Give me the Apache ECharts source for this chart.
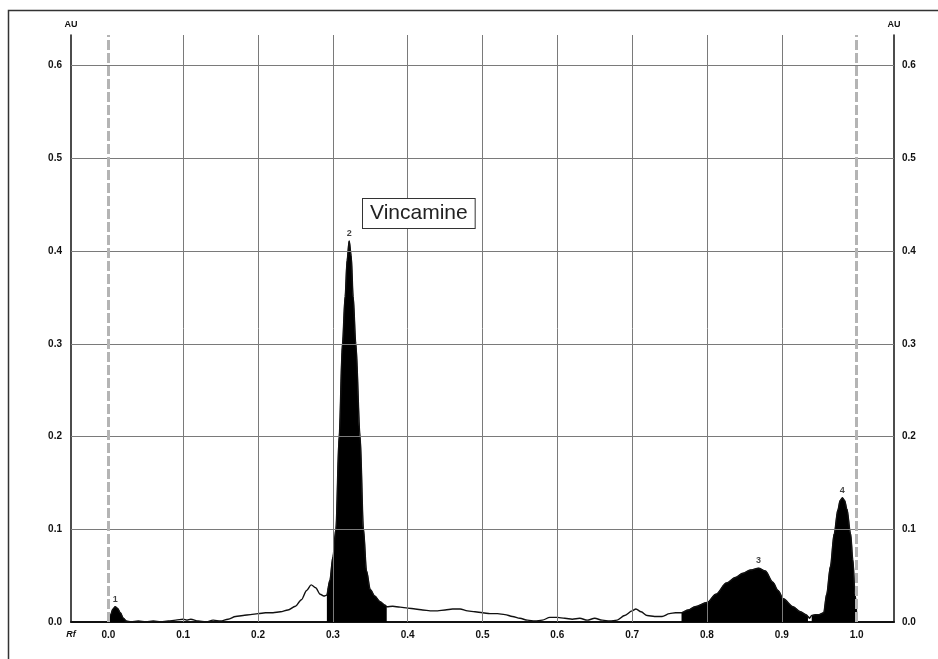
<!DOCTYPE html>
<html>
<head>
<meta charset="utf-8">
<script src="https://cdn.jsdelivr.net/npm/echarts@6/dist/echarts.min.js"></script>
<style>
  html, body { margin: 0; padding: 0; background: #fff; }
  #chart { width: 938px; height: 659px; }
</style>
</head>
<body>
<div id="chart"></div>
<script>
// densitogram trace (Rf vs absorbance units)
const rfValues = [
  0.000, 0.003, 0.006, 0.009, 0.012, 0.016, 0.020, 0.024, 0.030, 0.040,
  0.050, 0.060, 0.070, 0.080, 0.090, 0.100, 0.105, 0.110, 0.120, 0.130,
  0.140, 0.150, 0.160, 0.170, 0.180, 0.190, 0.200, 0.210, 0.220, 0.230,
  0.240, 0.250, 0.258, 0.265, 0.271, 0.277, 0.283, 0.288, 0.292, 0.296,
  0.300, 0.304, 0.3084, 0.3128, 0.3164, 0.319, 0.3218, 0.3245, 0.3271, 0.3307,
  0.3364, 0.3409, 0.345, 0.350, 0.356, 0.363, 0.370, 0.372, 0.380, 0.390,
  0.400, 0.410, 0.420, 0.430, 0.440, 0.450, 0.460, 0.470, 0.480, 0.490,
  0.500, 0.510, 0.520, 0.530, 0.540, 0.550, 0.560, 0.570, 0.580, 0.590,
  0.600, 0.610, 0.620, 0.630, 0.640, 0.650, 0.660, 0.670, 0.680, 0.690,
  0.700, 0.705, 0.712, 0.720, 0.730, 0.740, 0.750, 0.758, 0.766, 0.775,
  0.784, 0.800, 0.812, 0.826, 0.838, 0.848, 0.858, 0.869, 0.878, 0.888,
  0.895, 0.902, 0.915, 0.925, 0.933, 0.935, 0.937, 0.940, 0.945, 0.950,
  0.956, 0.960, 0.965, 0.970, 0.975, 0.978, 0.981, 0.984, 0.987, 0.992,
  0.995, 0.998, 1.000
];
const auValues = [
  0.002, 0.008, 0.014, 0.0165, 0.015, 0.010, 0.004, 0.001, 0.000, 0.001,
  0.000, 0.001, 0.000, 0.001, 0.002, 0.003, 0.002, 0.003, 0.001, 0.000,
  0.002, 0.001, 0.003, 0.006, 0.007, 0.008, 0.009, 0.010, 0.010, 0.011,
  0.013, 0.017, 0.024, 0.034, 0.040, 0.037, 0.030, 0.028, 0.029, 0.045,
  0.070, 0.100, 0.200, 0.300, 0.351, 0.390, 0.411, 0.395, 0.351, 0.300,
  0.200, 0.100, 0.055, 0.035, 0.028, 0.022, 0.018, 0.0165, 0.017, 0.016,
  0.015, 0.014, 0.013, 0.012, 0.012, 0.013, 0.014, 0.014, 0.012, 0.011,
  0.010, 0.009, 0.009, 0.008, 0.006, 0.004, 0.002, 0.001, 0.002, 0.005,
  0.005, 0.004, 0.003, 0.004, 0.002, 0.004, 0.002, 0.001, 0.002, 0.007,
  0.012, 0.014, 0.011, 0.007, 0.006, 0.006, 0.009, 0.010, 0.010, 0.013,
  0.0165, 0.021, 0.030, 0.042, 0.048, 0.0525, 0.056, 0.058, 0.055, 0.043,
  0.034, 0.025, 0.0165, 0.011, 0.0075, 0.006, 0.004, 0.007, 0.008, 0.008,
  0.010, 0.030, 0.060, 0.095, 0.121, 0.131, 0.134, 0.131, 0.122, 0.095,
  0.067, 0.030, 0.010
];

// integrated peak windows (start Rf, end Rf)
const peakStart = [0.000, 0.292, 0.766, 0.940];
const peakEnd = [0.024, 0.372, 0.935, 1.000];

// peak apex markers
const peakNames = ['1', '2', '3', '4'];
const peakRf = [0.009, 0.3218, 0.869, 0.981];
const peakAu = [0.0165, 0.411, 0.058, 0.134];

// axis ticks
const xTicks = [0.0, 0.1, 0.2, 0.3, 0.4, 0.5, 0.6, 0.7, 0.8, 0.9, 1.0];
const yTicks = [0.0, 0.1, 0.2, 0.3, 0.4, 0.5, 0.6];
const xGrid = [0.1, 0.2, 0.3, 0.4, 0.5, 0.6, 0.7, 0.8, 0.9];
const yGrid = [0.1, 0.2, 0.3, 0.4, 0.5, 0.6];
const frontLines = [0.0, 1.0];

const trace = rfValues.map((x, i) => [x, auValues[i]]);
const SMOOTH = 0.3;

const labelFont = { fontFamily: 'Liberation Sans', fontWeight: 'bold', fontSize: 10, color: '#111' };

const fillSeries = peakStart.map((a, i) => ({
  type: 'line',
  z: 2,
  silent: true,
  symbol: 'none',
  smooth: SMOOTH,
  smoothMonotone: 'x',
  lineStyle: { width: 0.8, color: '#222' },
  areaStyle: { color: '#000', opacity: 1 },
  data: trace.filter(p => p[0] >= a && p[0] <= peakEnd[i])
}));

const chart = echarts.init(document.getElementById('chart'));

const yAxisBase = {
  type: 'value',
  min: 0,
  max: 0.633,
  name: 'AU',
  nameLocation: 'end',
  nameGap: 6,
  nameTextStyle: { ...labelFont, fontSize: 9 },
  axisLine: { show: true, onZero: false, lineStyle: { color: '#111', width: 1.5 } },
  axisTick: { show: false },
  splitLine: { show: false },
  axisLabel: { ...labelFont, customValues: yTicks, formatter: v => v.toFixed(1) }
};

chart.setOption({
  animation: false,
  backgroundColor: '#fff',
  grid: { left: 71, right: 44, top: 35, bottom: 37 },
  xAxis: {
    type: 'value',
    min: -0.05,
    max: 1.05,
    axisLine: { show: true, onZero: false, lineStyle: { color: '#111', width: 2 } },
    axisTick: { show: false },
    splitLine: { show: false },
    axisLabel: {
      ...labelFont,
      margin: 8,
      customValues: [-0.05].concat(xTicks),
      formatter: v => (v < -0.01 ? '{rf|Rf}' : v.toFixed(1)),
      rich: { rf: { fontFamily: 'Liberation Sans', fontStyle: 'italic', fontWeight: 'bold', fontSize: 9, color: '#111' } }
    }
  },
  yAxis: [
    { ...yAxisBase, position: 'left', axisLabel: { ...yAxisBase.axisLabel, margin: 9 } },
    { ...yAxisBase, position: 'right', axisLabel: { ...yAxisBase.axisLabel, margin: 8 } }
  ],
  series: [
    {
      // grid lines
      type: 'line',
      z: 1,
      silent: true,
      symbol: 'none',
      lineStyle: { width: 0 },
      data: [[0, 0]],
      markLine: {
        silent: true,
        symbol: ['none', 'none'],
        label: { show: false },
        lineStyle: { color: '#7a7a7a', width: 1, type: 'solid' },
        data: xGrid.map(v => ({ xAxis: v })).concat(yGrid.map(v => ({ yAxis: v })))
      }
    },
    ...fillSeries,
    {
      type: 'line',
      z: 3,
      silent: true,
      symbol: 'none',
      smooth: SMOOTH,
      smoothMonotone: 'x',
      lineStyle: { color: '#111', width: 1.4 },
      data: trace
    },
    {
      // application line / solvent front
      type: 'line',
      z: 4,
      silent: true,
      symbol: 'none',
      lineStyle: { width: 0 },
      data: [[0, 0]],
      markLine: {
        silent: true,
        symbol: ['none', 'none'],
        label: { show: false },
        lineStyle: { color: '#b4b4b4', width: 3, type: [10, 3] },
        data: frontLines.map(v => ({ xAxis: v }))
      }
    },
    {
      type: 'scatter',
      z: 5,
      silent: true,
      symbolSize: 0,
      data: peakRf.map((x, i) => [x, peakAu[i]]),
      label: {
        show: true,
        position: 'top',
        distance: 3,
        ...labelFont,
        fontSize: 9,
        formatter: p => peakNames[p.dataIndex]
      }
    }
  ],
  graphic: [
    {
      type: 'rect',
      silent: true,
      shape: { x: 8.5, y: 10.5, width: 940, height: 660 },
      style: { fill: 'none', stroke: '#333', lineWidth: 1.5 }
    },
    {
      type: 'text',
      silent: true,
      left: 362,
      top: 198,
      z: 10,
      style: {
        text: 'Vincamine',
        font: '21px "Liberation Sans"',
        fill: '#222',
        backgroundColor: '#fff',
        borderColor: '#333',
        borderWidth: 1,
        padding: [4, 7, 4, 7]
      }
    }
  ]
});
</script>
</body>
</html>
